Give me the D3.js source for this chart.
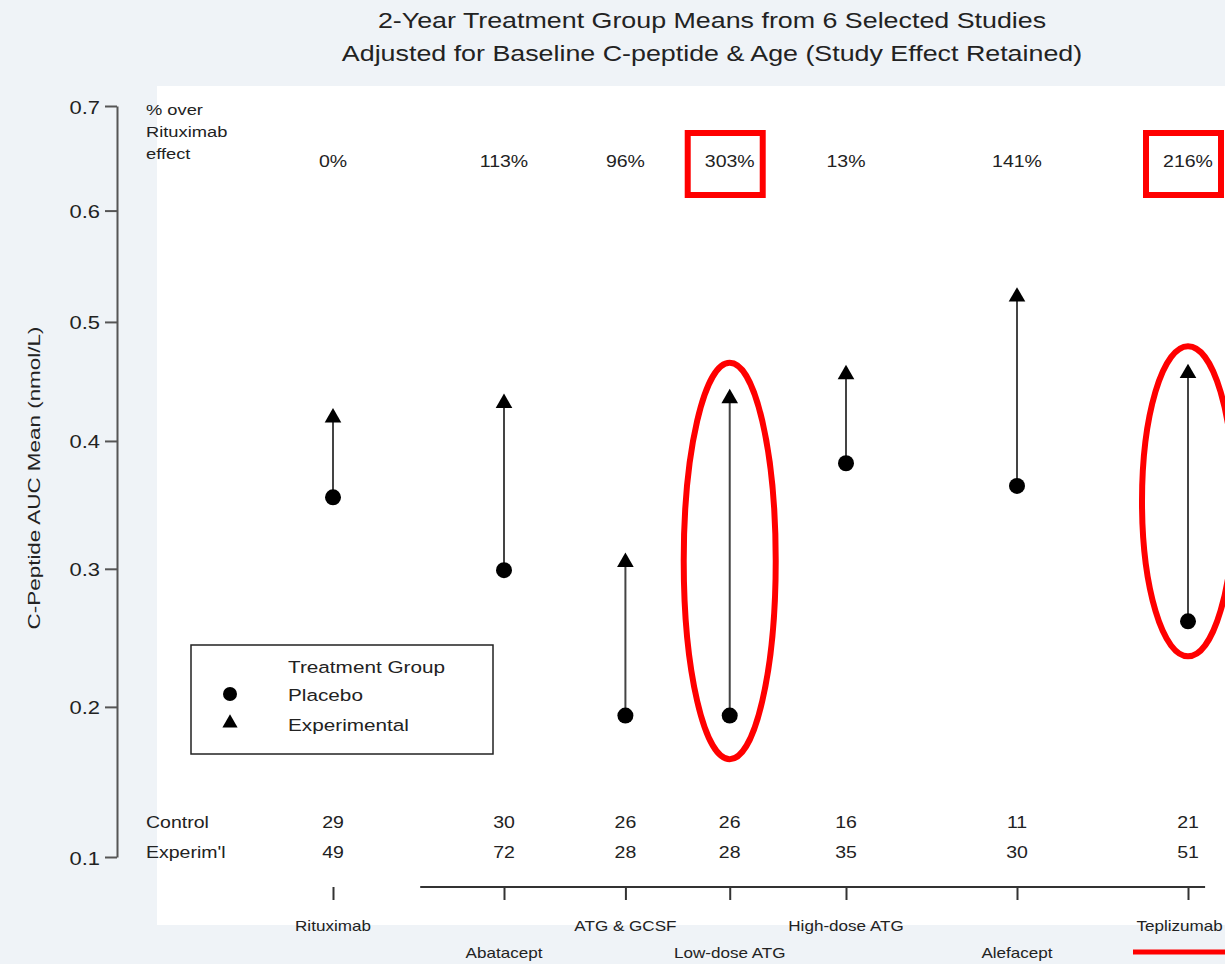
<!DOCTYPE html>
<html>
<head>
<meta charset="utf-8">
<script src="https://cdn.jsdelivr.net/npm/d3@7"></script>
<style>
  body { margin: 0; background: #eff3f7; }
  text { font-family: "Liberation Sans", Arial, sans-serif; fill: #222; }
</style>
</head>
<body>
<div id="chart"></div>
<script>
// study data
var studies = ["Rituximab", "Abatacept", "ATG & GCSF", "Low-dose ATG", "High-dose ATG", "Alefacept", "Teplizumab"];
var studyPos = [1, 2, 2.71, 3.32, 4, 5, 6];
var labelRow = [0, 1, 0, 1, 0, 1, 0];
var placebo = [0.355, 0.299, 0.194, 0.194, 0.382, 0.364, 0.261];
var experimental = [0.419, 0.431, 0.305, 0.435, 0.455, 0.522, 0.456];
var pctOver = ["0%", "113%", "96%", "303%", "13%", "141%", "216%"];
var nControl = [29, 30, 26, 26, 16, 11, 21];
var nExperim = [49, 72, 28, 28, 35, 30, 51];
var yTicks = [0.1, 0.2, 0.3, 0.4, 0.5, 0.6, 0.7];
var highlighted = ["Low-dose ATG", "Teplizumab"];

var W = 1225, H = 964;
var SX = 1.22; // text in the original is drawn a bit wide

var svg = d3.select("#chart").append("svg")
    .attr("width", W)
    .attr("height", H);

// place a text with the horizontal stretch
function txt(parent, x, y, str, size, anchor) {
    return parent.append("text")
        .attr("transform", "translate(" + x + "," + y + ") scale(" + SX + ",1)")
        .attr("text-anchor", anchor || "start")
        .style("font-size", size + "px")
        .text(str);
}

// white plot panel
svg.append("rect")
    .attr("x", 157).attr("y", 86)
    .attr("width", W - 157).attr("height", 839)
    .attr("fill", "#fff");

// scales: y is log(x + 1)
var x = d3.scaleLinear().domain([1, 6]).range([333, 1188]);
var y = d3.scaleSymlog().constant(1).domain([0.1, 0.7]).range([857, 106]);

// title
txt(svg, 712, 28, "2-Year Treatment Group Means from 6 Selected Studies", 22, "middle");
txt(svg, 712, 61, "Adjusted for Baseline C-peptide & Age (Study Effect Retained)", 22, "middle");

// y axis
var yAxis = svg.append("g")
    .attr("transform", "translate(117,0)")
    .call(d3.axisLeft(y).tickValues(yTicks).tickFormat(d3.format(".1f")).tickSize(12).tickSizeOuter(0));
yAxis.select(".domain").attr("stroke", "#555").attr("stroke-width", 2);
yAxis.selectAll(".tick line").attr("stroke", "#555").attr("stroke-width", 2);
yAxis.selectAll(".tick text").remove();
yAxis.selectAll(".tick").each(function(d) {
    txt(d3.select(this), -17, 7, d3.format(".1f")(d), 18, "end").attr("fill", "#333");
});

svg.append("text")
    .text("C-Peptide AUC Mean (nmol/L)")
    .attr("text-anchor", "middle")
    .style("font-size", "17px")
    .attr("transform", "translate(40,478) rotate(-90) scale(1.32,1)");

// x axis: ticks only, line starts after Rituximab
var xAxis = svg.append("g")
    .attr("transform", "translate(0,887)")
    .call(d3.axisBottom(x).tickValues(studyPos).tickFormat("").tickSize(13).tickSizeOuter(0));
xAxis.select(".domain").remove();
xAxis.selectAll(".tick line").attr("stroke", "#333").attr("stroke-width", 2);
xAxis.append("line")
    .attr("x1", x(1.51)).attr("x2", x(6.1))
    .attr("stroke", "#333").attr("stroke-width", 2);

// study labels, alternating rows; keep the last one inside the page
studies.forEach(function(d, i) {
    var cx = x(studyPos[i]);
    var t = txt(svg, cx, labelRow[i] ? 958 : 931, d, 14, "middle");
    var half = t.node().getBBox().width * SX / 2;
    if (cx + half > W - 2) {
        t.attr("transform", "translate(" + (W - 2 - half) + "," + (labelRow[i] ? 958 : 931) + ") scale(" + SX + ",1)");
    }
});

// connecting lines
svg.selectAll(".pair")
    .data(studies)
    .enter().append("line")
    .attr("x1", function(d, i) { return x(studyPos[i]); })
    .attr("x2", function(d, i) { return x(studyPos[i]); })
    .attr("y1", function(d, i) { return y(placebo[i]); })
    .attr("y2", function(d, i) { return y(experimental[i]); })
    .attr("stroke", "#444")
    .attr("stroke-width", 2);

svg.selectAll(".placebo")
    .data(placebo)
    .enter().append("circle")
    .attr("cx", function(d, i) { return x(studyPos[i]); })
    .attr("cy", function(d) { return y(d); })
    .attr("r", 8)
    .attr("fill", "#000");

var tri = d3.symbol(d3.symbolTriangle, 120);
svg.selectAll(".exper")
    .data(experimental)
    .enter().append("path")
    .attr("d", tri)
    .attr("transform", function(d, i) { return "translate(" + x(studyPos[i]) + "," + y(d) + ")"; })
    .attr("fill", "#000");

// percent over rituximab row
["% over", "Rituximab", "effect"].forEach(function(t, i) {
    txt(svg, 146, 115 + i * 22, t, 15);
});
pctOver.forEach(function(d, i) {
    txt(svg, x(studyPos[i]), 167, d, 16, "middle");
});

// counts
txt(svg, 146, 828, "Control", 16);
txt(svg, 146, 858, "Experim'l", 16);
nControl.forEach(function(d, i) {
    txt(svg, x(studyPos[i]), 828, d, 16, "middle");
});
nExperim.forEach(function(d, i) {
    txt(svg, x(studyPos[i]), 858, d, 16, "middle");
});

// legend
var lg = svg.append("g");
lg.append("rect")
    .attr("x", 191).attr("y", 645).attr("width", 302).attr("height", 109)
    .attr("fill", "#fff").attr("stroke", "#222").attr("stroke-width", 1.5);
txt(lg, 288, 673, "Treatment Group", 17);
lg.append("circle").attr("cx", 230).attr("cy", 694).attr("r", 7).attr("fill", "#000");
txt(lg, 288, 701, "Placebo", 17);
lg.append("path").attr("d", d3.symbol(d3.symbolTriangle, 100)).attr("transform", "translate(230,723)").attr("fill", "#000");
txt(lg, 288, 731, "Experimental", 17);

// red highlight annotations
highlighted.forEach(function(name) {
    var i = studies.indexOf(name);
    var cx = x(studyPos[i]);
    var top = y(experimental[i]), bot = y(placebo[i]);
    svg.append("ellipse")
        .attr("cx", cx)
        .attr("cy", (top + bot) / 2 + 4)
        .attr("rx", 46)
        .attr("ry", (bot - top) / 2 * 1.25)
        .attr("fill", "none")
        .attr("stroke", "#f00")
        .attr("stroke-width", 6);
    svg.append("rect")
        .attr("x", cx - 42).attr("y", 133)
        .attr("width", 75).attr("height", 62)
        .attr("fill", "none")
        .attr("stroke", "#f00")
        .attr("stroke-width", 6);
    if (name === "Teplizumab") {
        svg.append("line")
            .attr("x1", cx - 55).attr("x2", cx + 40)
            .attr("y1", 952).attr("y2", 952)
            .attr("stroke", "#f00").attr("stroke-width", 5);
    }
});
</script>
</body>
</html>
